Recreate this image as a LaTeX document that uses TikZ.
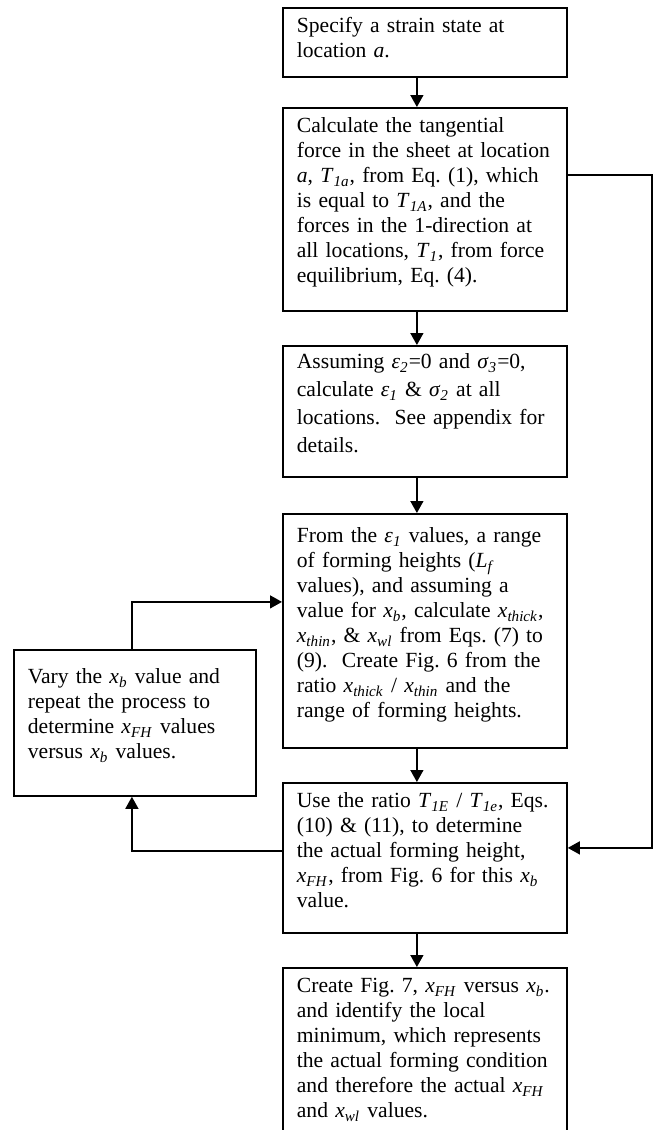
\documentclass[tikz,border=0pt]{standalone}
\usepackage{fontspec}
\setmainfont{Liberation Serif}
\usetikzlibrary{arrows.meta}
\frenchspacing
\newcommand{\vsub}[2]{\textit{#1}\textsubscript{\textit{#2}}}

\begin{document}
\begin{tikzpicture}[x=0.5pt, y=-0.5pt, >={Triangle[length=6pt,width=6.5pt]},
  stage/.style={draw, line width=0.9pt, anchor=north west, align=left, text width=128pt,
    inner xsep=7pt, inner ysep=5pt, text height=7.5pt, font=\fontsize{10.8}{12.5}\selectfont},
  link/.style={line width=0.7pt}]
\clip (0,0) rectangle (653,1130);

\node (spec) at (282,7) [stage, text depth=17pt] {Specify a strain state at\\
location \textit{a}.};
\node (tang) at (282,107) [stage, text depth=84pt] {Calculate the tangential\\
force in the sheet at location\\
\textit{a}, \vsub{T}{1a}, from Eq. (1), which\\
is equal to \vsub{T}{1A}, and the\\
forces in the 1-direction at\\
all locations, \vsub{T}{1}, from force\\
equilibrium, Eq. (4).};
\node (strain) at (282,345) [stage, text height=6.5pt, text depth=49pt] {Assuming \vsub{ε}{2}=0 and \vsub{σ}{3}=0,\\[1.5pt]
calculate \vsub{ε}{1} \& \vsub{σ}{2} at all\\[1.5pt]
locations.~ See appendix for\\[1.5pt]
details.};
\node (range) at (282,513) [stage, text height=9.5pt, text depth=97.5pt] {From the \vsub{ε}{1} values, a range\\
of forming heights (\vsub{L}{f}\\
values), and assuming a\\
value for \vsub{x}{b}, calculate \vsub{x}{thick},\\
\vsub{x}{thin}, \& \vsub{x}{wl} from Eqs. (7) to\\
(9).~ Create Fig. 6 from the\\
ratio \vsub{x}{thick} / \vsub{x}{thin} and the\\
range of forming heights.};
\node (vary) at (13,649) [stage, text width=107pt, text height=12pt, text depth=51pt] {Vary the \vsub{x}{b} value and\\
repeat the process to\\
determine \vsub{x}{FH} values\\
versus \vsub{x}{b} values.};
\node (ratio) at (282,782) [stage, text depth=57.5pt] {Use the ratio \vsub{T}{1E} / \vsub{T}{1e}, Eqs.\\
(10) \& (11), to determine\\
the actual forming height,\\
\vsub{x}{FH}, from Fig. 6 for this \vsub{x}{b}\\
value.};
\node (minimum) at (282,967) [stage, text depth=82.5pt] {\mbox{Create Fig. 7, \vsub{x}{FH} versus \vsub{x}{b}.}\\
and identify the local\\
minimum, which represents\\
the actual forming condition\\
\mbox{and therefore the actual \vsub{x}{FH}}\\
and \vsub{x}{wl} values.};

\draw [->, link] ([xshift=-4pt]spec.south) -- ([xshift=-4pt]tang.north);
\draw [->, link] ([xshift=-4pt]tang.south) -- ([xshift=-4pt]strain.north);
\draw [->, link] ([xshift=-4pt]strain.south) -- ([xshift=-4pt]range.north);
\draw [->, link] ([xshift=-4pt]range.south) -- ([xshift=-4pt]ratio.north);
\draw [->, link] ([xshift=-4pt]ratio.south) -- ([xshift=-4pt]minimum.north);
\draw [->, link] ([yshift=17.25pt]tang.east) -- ++(84,0) |- ([yshift=5pt]ratio.east);
\draw [->, link] ([yshift=3.5pt]ratio.west) -| ([xshift=-1.5pt]vary.south);
\draw [->, link] ([xshift=-1.5pt]vary.north) |- ([yshift=14.5pt]range.west);
\end{tikzpicture}
\end{document}
